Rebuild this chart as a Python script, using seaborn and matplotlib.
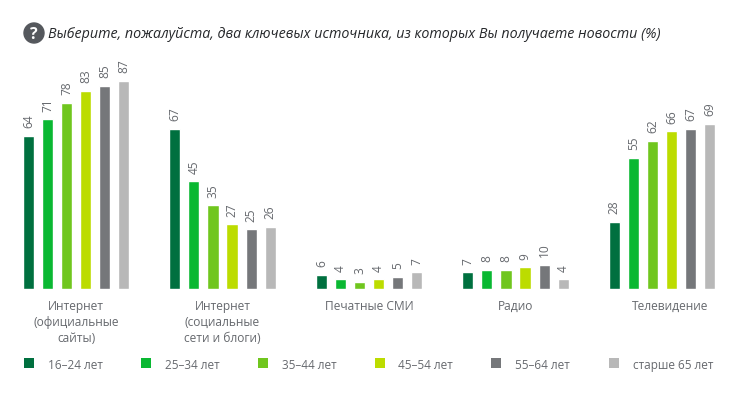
import matplotlib
matplotlib.use("Agg")
import matplotlib.pyplot as plt
from matplotlib.patches import Rectangle, Circle
from matplotlib.transforms import ScaledTranslation, IdentityTransform
import pandas as pd
import seaborn as sns

categories = ["Интернет\n(официальные\nсайты)", "Интернет\n(социальные\nсети и блоги)",
              "Печатные СМИ", "Радио", "Телевидение"]
ages = ["16–24 лет", "25–34 лет", "35–44 лет", "45–54 лет", "55–64 лет", "старше 65 лет"]
v_16_24 = [64, 67, 6, 7, 28]
v_25_34 = [71, 45, 4, 8, 55]
v_35_44 = [78, 35, 3, 8, 62]
v_45_54 = [83, 27, 4, 9, 66]
v_55_64 = [85, 25, 5, 10, 67]
v_65 = [87, 26, 7, 4, 69]
series = [v_16_24, v_25_34, v_35_44, v_45_54, v_55_64, v_65]
colors = ["#00703f", "#0ab832", "#70c61e", "#bcdc00", "#75777a", "#b8b8b8"]
title = "Выберите, пожалуйста, два ключевых источника, из которых Вы получаете новости (%)"

sns.set_theme(style="white")
plt.rcParams["font.family"] = ["Open Sans", "DejaVu Sans"]

W, H = 735, 394
GREY = "#66696e"
rows = [{"cat": c, "age": a, "val": s[i]} for a, s in zip(ages, series) for i, c in enumerate(categories)]
df = pd.DataFrame(rows)

fig = plt.figure(figsize=(W / 100, H / 100), dpi=100, facecolor="white")
base, top = 289, 50
ax = fig.add_axes([0, 1 - base / H, 1, (base - top) / H])
sns.barplot(data=df, x="cat", y="val", hue="age", hue_order=ages, palette=colors,
            order=categories, width=0.78, gap=0.42, dodge=True, legend=False,
            saturation=1, ax=ax, errorbar=None)
pitch = 146.5
ax.set_xlim(-76 / pitch, (W - 76) / pitch)
ax.set_ylim(0, (base - top) / 2.39)
ax.set_yticks([])
ax.set_xlabel("")
ax.set_ylabel("")
ax.patch.set_alpha(0)
sns.despine(ax=ax, left=True, bottom=True)
ax.tick_params(axis="x", length=0, pad=8, labelsize=8.65, labelcolor=GREY)
for lab in ax.get_xticklabels():
    lab.set_linespacing(1.27)
tv_label = ax.get_xticklabels()[-1]
tv_label.set_transform(tv_label.get_transform() + ScaledTranslation(8 / 100, 0, fig.dpi_scale_trans))
for cont in ax.containers:
    ax.bar_label(cont, rotation=90, padding=5.5, fontsize=8.6, color=GREY)

def px(x, y):
    return x / W, 1 - y / H

# question icon and title
ic = Circle((34, H - 33), 10, color="#55585d")
ic.set_transform(IdentityTransform())
fig.patches.append(ic)
fig.text(*px(34, 33), "?", ha="center", va="center_baseline", color="white", fontsize=11.5, fontweight="bold")
fig.text(*px(48, 33), title, ha="left", va="center_baseline", style="italic", fontsize=10.22, color="#26282b")

# legend row
sq_x = [24, 141, 258, 375, 491, 609]
tx_x = [48, 165, 282, 398, 515, 633]
for a, c, sx, tx in zip(ages, colors, sq_x, tx_x):
    x0, y0 = px(sx, 368)
    fig.patches.append(Rectangle((x0, y0), 10 / W, 10 / H, transform=fig.transFigure, color=c, lw=0))
    fig.text(*px(tx, 364), a, ha="left", va="center_baseline", fontsize=8.5, color=GREY)

fig.savefig("out.png", dpi=100, facecolor="white")
